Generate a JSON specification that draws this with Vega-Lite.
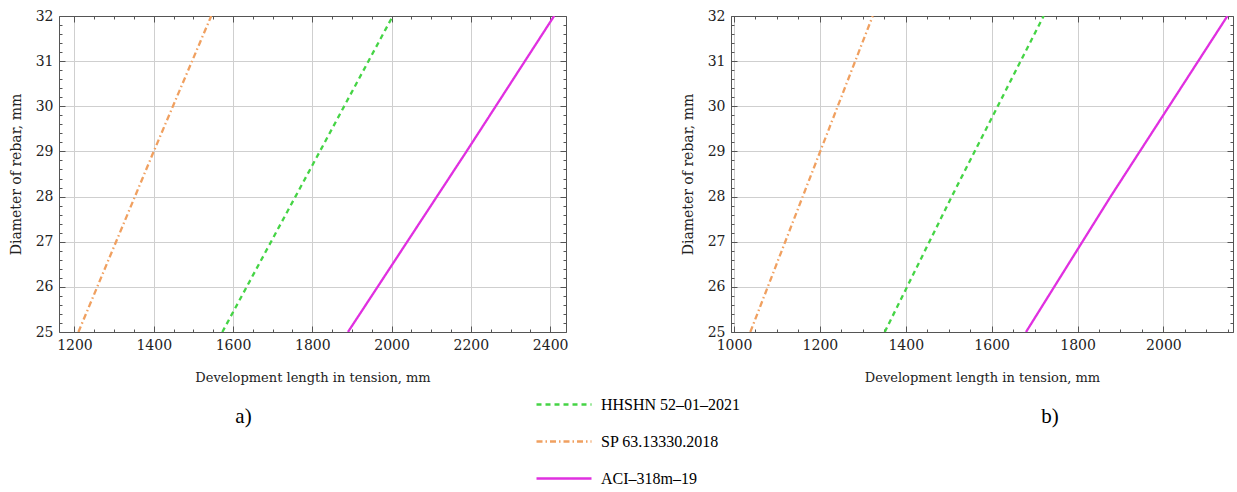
{
  "$schema": "https://vega.github.io/schema/vega-lite/v6.json",
  "background": "white",
  "padding": {"left": 9, "top": 9, "right": 0, "bottom": 0},
  "bounds": "flush",
  "spacing": 165,
  "config": {
    "font": "DejaVu Serif",
    "view": {"stroke": null},
    "axis": {
      "domainColor": "#555555",
      "domainWidth": 1,
      "tickColor": "#555555",
      "tickWidth": 1,
      "gridColor": "#cfcfcf",
      "gridWidth": 1,
      "labelFont": "DejaVu Serif",
      "labelFontSize": 14,
      "labelColor": "#222222",
      "labelPadding": 12,
      "labelOverlap": false,
      "titleFont": "DejaVu Serif",
      "titleFontWeight": "normal",
      "titleColor": "#222222"
    }
  },
  "datasets": {
    "a": [
      {"series": "HHSHN 52–01–2021", "d": 25, "L": 1573},
      {"series": "HHSHN 52–01–2021", "d": 29, "L": 1819},
      {"series": "HHSHN 52–01–2021", "d": 32, "L": 2003},
      {"series": "SP 63.13330.2018", "d": 25, "L": 1210},
      {"series": "SP 63.13330.2018", "d": 29, "L": 1400},
      {"series": "SP 63.13330.2018", "d": 32, "L": 1545},
      {"series": "ACI–318m–19", "d": 25, "L": 1890},
      {"series": "ACI–318m–19", "d": 29, "L": 2189},
      {"series": "ACI–318m–19", "d": 32, "L": 2410}
    ],
    "b": [
      {"series": "HHSHN 52–01–2021", "d": 25, "L": 1351},
      {"series": "HHSHN 52–01–2021", "d": 28, "L": 1507},
      {"series": "HHSHN 52–01–2021", "d": 32, "L": 1721},
      {"series": "SP 63.13330.2018", "d": 25, "L": 1038},
      {"series": "SP 63.13330.2018", "d": 28, "L": 1160},
      {"series": "SP 63.13330.2018", "d": 32, "L": 1323},
      {"series": "ACI–318m–19", "d": 25, "L": 1680},
      {"series": "ACI–318m–19", "d": 28, "L": 1877},
      {"series": "ACI–318m–19", "d": 32, "L": 2149}
    ]
  },
  "hconcat": [
    {
      "width": 507,
      "height": 316,
      "title": {"text": "a)", "orient": "bottom", "anchor": "middle", "dx": -69, "offset": 22, "font": "Liberation Serif", "fontSize": 21, "fontWeight": "normal", "color": "#000000"},
      "data": {"name": "a"},
      "layer": [
        {
          "mark": {"type": "line", "strokeWidth": 2.3, "clip": true},
          "encoding": {
            "x": {"field": "L", "type": "quantitative",
              "scale": {"domain": [1161, 2440], "nice": false, "zero": false},
              "axis": {"orient": "bottom", "title": "Development length in tension, mm", "titleFontSize": 13, "titlePadding": 16,
                "values": [1200,1250,1300,1350,1400,1450,1500,1550,1600,1650,1700,1750,1800,1850,1900,1950,2000,2050,2100,2150,2200,2250,2300,2350,2400],
                "labelExpr": "datum.value % 200 === 0 ? datum.label : ''",
                "format": "d",
                "tickSize": {"condition": {"test": "datum.value % 200 === 0", "value": -6}, "value": -3},
                "gridOpacity": {"condition": {"test": "datum.value % 200 === 0", "value": 1}, "value": 0}}},
            "y": {"field": "d", "type": "quantitative",
              "scale": {"domain": [25, 32], "nice": false, "zero": false},
              "axis": {"orient": "left", "title": "Diameter of rebar, mm", "titleFontSize": 14, "titlePadding": 12, "labelOverlap": false,
                "values": [25,25.2,25.4,25.6,25.8,26,26.2,26.4,26.6,26.8,27,27.2,27.4,27.6,27.8,28,28.2,28.4,28.6,28.8,29,29.2,29.4,29.6,29.8,30,30.2,30.4,30.6,30.8,31,31.2,31.4,31.6,31.8,32],
                "labelExpr": "abs(datum.value - round(datum.value)) < 0.01 ? format(datum.value, 'd') : ''",
                "tickSize": {"condition": {"test": "abs(datum.value - round(datum.value)) < 0.01", "value": -6}, "value": -3},
                "gridOpacity": {"condition": {"test": "abs(datum.value - round(datum.value)) < 0.01", "value": 1}, "value": 0}}},
            "color": {"field": "series", "type": "nominal",
              "scale": {"domain": ["HHSHN 52–01–2021", "SP 63.13330.2018", "ACI–318m–19"], "range": ["#45d445", "#f0a060", "#e030e0"]},
              "legend": {"orient": "none", "legendX": 476, "legendY": 370, "title": null, "symbolType": "stroke", "symbolSize": 3025, "symbolStrokeWidth": 2.5, "labelFont": "Liberation Serif", "labelFontSize": 16, "labelColor": "#000000", "clipHeight": 37, "rowPadding": 0, "labelOffset": 8}},
            "strokeDash": {"field": "series", "type": "nominal",
              "scale": {"domain": ["HHSHN 52–01–2021", "SP 63.13330.2018", "ACI–318m–19"], "range": [[5, 4], [6, 3, 1.5, 3], [1, 0]]},
              "legend": {"orient": "none", "legendX": 476, "legendY": 370, "title": null, "symbolType": "stroke", "symbolSize": 3025, "symbolStrokeWidth": 2.5, "labelFont": "Liberation Serif", "labelFontSize": 16, "labelColor": "#000000", "clipHeight": 37, "rowPadding": 0, "labelOffset": 8}}
          }
        },
        {
          "mark": {"type": "line", "opacity": 0},
          "encoding": {
            "detail": {"field": "series"},
            "x": {"field": "L", "type": "quantitative",
              "axis": {"orient": "top", "title": null, "labels": false, "grid": false,
                "values": [1200,1250,1300,1350,1400,1450,1500,1550,1600,1650,1700,1750,1800,1850,1900,1950,2000,2050,2100,2150,2200,2250,2300,2350,2400],
                "tickSize": {"condition": {"test": "datum.value % 200 === 0", "value": -6}, "value": -3}}},
            "y": {"field": "d", "type": "quantitative",
              "axis": {"orient": "right", "title": null, "labels": false, "grid": false,
                "values": [25,25.2,25.4,25.6,25.8,26,26.2,26.4,26.6,26.8,27,27.2,27.4,27.6,27.8,28,28.2,28.4,28.6,28.8,29,29.2,29.4,29.6,29.8,30,30.2,30.4,30.6,30.8,31,31.2,31.4,31.6,31.8,32],
                "tickSize": {"condition": {"test": "abs(datum.value - round(datum.value)) < 0.01", "value": -6}, "value": -3}}}
          }
        }
      ],
      "resolve": {"axis": {"x": "independent", "y": "independent"}}
    },
    {
      "width": 502,
      "height": 316,
      "title": {"text": "b)", "orient": "bottom", "anchor": "middle", "dx": 68, "offset": 22, "font": "Liberation Serif", "fontSize": 21, "fontWeight": "normal", "color": "#000000"},
      "data": {"name": "b"},
      "layer": [
        {
          "mark": {"type": "line", "strokeWidth": 2.3, "clip": true},
          "encoding": {
            "x": {"field": "L", "type": "quantitative",
              "scale": {"domain": [993, 2162], "nice": false, "zero": false},
              "axis": {"orient": "bottom", "title": "Development length in tension, mm", "titleFontSize": 13, "titlePadding": 16,
                "values": [1000,1050,1100,1150,1200,1250,1300,1350,1400,1450,1500,1550,1600,1650,1700,1750,1800,1850,1900,1950,2000,2050,2100,2150],
                "labelExpr": "datum.value % 200 === 0 ? datum.label : ''",
                "format": "d",
                "tickSize": {"condition": {"test": "datum.value % 200 === 0", "value": -6}, "value": -3},
                "gridOpacity": {"condition": {"test": "datum.value % 200 === 0", "value": 1}, "value": 0}}},
            "y": {"field": "d", "type": "quantitative",
              "scale": {"domain": [25, 32], "nice": false, "zero": false},
              "axis": {"orient": "left", "title": "Diameter of rebar, mm", "titleFontSize": 14, "titlePadding": 12, "labelOverlap": false,
                "values": [25,25.2,25.4,25.6,25.8,26,26.2,26.4,26.6,26.8,27,27.2,27.4,27.6,27.8,28,28.2,28.4,28.6,28.8,29,29.2,29.4,29.6,29.8,30,30.2,30.4,30.6,30.8,31,31.2,31.4,31.6,31.8,32],
                "labelExpr": "abs(datum.value - round(datum.value)) < 0.01 ? format(datum.value, 'd') : ''",
                "tickSize": {"condition": {"test": "abs(datum.value - round(datum.value)) < 0.01", "value": -6}, "value": -3},
                "gridOpacity": {"condition": {"test": "abs(datum.value - round(datum.value)) < 0.01", "value": 1}, "value": 0}}},
            "color": {"field": "series", "type": "nominal",
              "scale": {"domain": ["HHSHN 52–01–2021", "SP 63.13330.2018", "ACI–318m–19"], "range": ["#45d445", "#f0a060", "#e030e0"]},
              "legend": {"orient": "none", "legendX": 476, "legendY": 370, "title": null, "symbolType": "stroke", "symbolSize": 3025, "symbolStrokeWidth": 2.5, "labelFont": "Liberation Serif", "labelFontSize": 16, "labelColor": "#000000", "clipHeight": 37, "rowPadding": 0, "labelOffset": 8}},
            "strokeDash": {"field": "series", "type": "nominal",
              "scale": {"domain": ["HHSHN 52–01–2021", "SP 63.13330.2018", "ACI–318m–19"], "range": [[5, 4], [6, 3, 1.5, 3], [1, 0]]},
              "legend": {"orient": "none", "legendX": 476, "legendY": 370, "title": null, "symbolType": "stroke", "symbolSize": 3025, "symbolStrokeWidth": 2.5, "labelFont": "Liberation Serif", "labelFontSize": 16, "labelColor": "#000000", "clipHeight": 37, "rowPadding": 0, "labelOffset": 8}}
          }
        },
        {
          "mark": {"type": "line", "opacity": 0},
          "encoding": {
            "detail": {"field": "series"},
            "x": {"field": "L", "type": "quantitative",
              "axis": {"orient": "top", "title": null, "labels": false, "grid": false,
                "values": [1000,1050,1100,1150,1200,1250,1300,1350,1400,1450,1500,1550,1600,1650,1700,1750,1800,1850,1900,1950,2000,2050,2100,2150],
                "tickSize": {"condition": {"test": "datum.value % 200 === 0", "value": -6}, "value": -3}}},
            "y": {"field": "d", "type": "quantitative",
              "axis": {"orient": "right", "title": null, "labels": false, "grid": false,
                "values": [25,25.2,25.4,25.6,25.8,26,26.2,26.4,26.6,26.8,27,27.2,27.4,27.6,27.8,28,28.2,28.4,28.6,28.8,29,29.2,29.4,29.6,29.8,30,30.2,30.4,30.6,30.8,31,31.2,31.4,31.6,31.8,32],
                "tickSize": {"condition": {"test": "abs(datum.value - round(datum.value)) < 0.01", "value": -6}, "value": -3}}}
          }
        }
      ],
      "resolve": {"axis": {"x": "independent", "y": "independent"}}
    }
  ],
  "resolve": {"scale": {"color": "shared", "strokeDash": "shared"}}
}
